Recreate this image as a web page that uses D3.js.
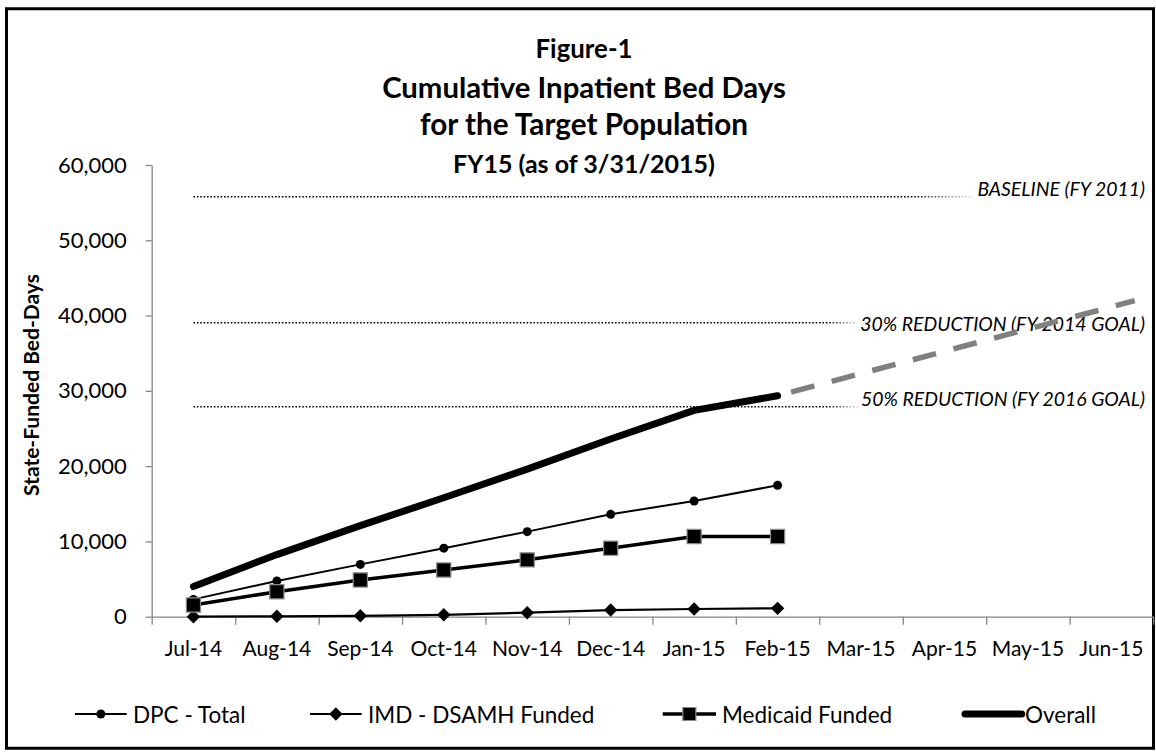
<!DOCTYPE html>
<html><head><meta charset="utf-8">
<script src="https://cdn.jsdelivr.net/npm/d3@7"></script>
<style>
body{margin:0;background:#fff;}
text{font-family:Lato,"Open Sans",sans-serif;fill:#000;}
</style>
</head><body>
<svg id="c" width="1156" height="756"></svg>
<script>
// ---- data ----
const months = ["Jul-14","Aug-14","Sep-14","Oct-14","Nov-14","Dec-14","Jan-15","Feb-15","Mar-15","Apr-15","May-15","Jun-15"];
const dpcTotal = [2300, 4750, 6950, 9100, 11300, 13600, 15370, 17450];
const imdFunded = [0, 50, 120, 250, 530, 880, 1020, 1110];
const medicaidFunded = [1550, 3320, 4880, 6200, 7550, 9100, 10650, 10650];
const overall = [4000, 8250, 12100, 15800, 19600, 23600, 27400, 29350];
const projectionMonthIndex = [7, 11.28];
const projectionValues = [29350, 41980];
const referenceValues = [55790, 39050, 27895];
const referenceLabels = ["BASELINE (FY 2011)", "30% REDUCTION (FY 2014 GOAL)", "50% REDUCTION (FY 2016 GOAL)"];
const yTicks = [0, 10000, 20000, 30000, 40000, 50000, 60000];
const titleLines = ["Figure-1", "Cumulative Inpatient Bed Days", "for the Target Population", "FY15 (as of 3/31/2015)"];
const yAxisTitle = "State-Funded Bed-Days";
const legendLabels = ["DPC - Total", "IMD - DSAMH Funded", "Medicaid Funded", "Overall"];

// ---- layout ----
const svg = d3.select("#c");
const plotL = 151.7, plotR = 1153.1, plotT = 165, plotB = 616.7;
const x = d3.scaleBand().domain(months).range([plotL, plotR]).padding(0);
const xi = d3.scaleLinear().domain([-0.5, months.length - 0.5]).range([plotL, plotR]);
const y = d3.scaleLinear().domain([0, 60000]).range([plotB, plotT]);
const cx = (d, i) => x(months[i]) + x.bandwidth() / 2;
const axisGray = "#868686";

function fit(sel, w) {
  const l = sel.node().getComputedTextLength();
  const fs = parseFloat(sel.attr("font-size"));
  sel.attr("font-size", fs * w / l);
}

// border
svg.append("rect").attr("x", 6.5).attr("y", 8.75).attr("width", 1147).attr("height", 739.5)
  .attr("fill", "none").attr("stroke", "#000").attr("stroke-width", 3);

// title
const titleY = [48, 86, 123, 163];
const titleSize = [28, 30, 30, 26];
const titleW = [97, 404, 328, 262];
titleLines.forEach((t, i) => {
  const s = svg.append("text").attr("x", 584).attr("y", titleY[i]).attr("text-anchor", "middle")
    .attr("dominant-baseline", "central").attr("font-weight", "bold").attr("font-size", titleSize[i]).text(t);
  fit(s, titleW[i]);
});

// y axis
const yAxis = svg.append("g").attr("transform", `translate(${plotL},0)`)
  .call(d3.axisLeft(y).tickValues(yTicks).tickSize(6).tickSizeOuter(0).tickPadding(19).tickFormat(d3.format(",")));
yAxis.select(".domain").attr("stroke", axisGray).attr("stroke-width", 1.3);
yAxis.selectAll(".tick line").attr("stroke", axisGray).attr("stroke-width", 1.3);
yAxis.selectAll(".tick text").attr("font-size", 22).attr("font-family", "Lato").attr("fill", "#000");

// y axis title
svg.append("text").attr("transform", "translate(30,385) rotate(-90)").attr("text-anchor", "middle")
  .attr("dominant-baseline", "central").attr("font-weight", "bold").attr("font-size", 21).text(yAxisTitle);

// x axis
const xAxis = svg.append("g").attr("transform", `translate(0,${plotB})`)
  .call(d3.axisBottom(xi).tickValues(d3.range(-0.5, months.length, 1)).tickSize(8).tickSizeOuter(0).tickFormat(""));
xAxis.select(".domain").attr("stroke", axisGray).attr("stroke-width", 1.3);
xAxis.selectAll(".tick line").attr("stroke", axisGray).attr("stroke-width", 1.3);
const xLab = svg.append("g").attr("transform", `translate(0,${plotB})`)
  .call(d3.axisBottom(x).tickSize(0).tickPadding(22));
xLab.select(".domain").remove();
xLab.selectAll(".tick text").attr("font-size", 21).attr("font-family", "Lato").attr("fill", "#000")
  .attr("dy", "0").attr("dominant-baseline", "central").attr("y", 31);

// reference lines + labels
const refLabelY = [188, 323, 398.3];
const refFade = [64, 30, 30];
const defs = svg.append("defs");
const refG = svg.append("g");
referenceValues.forEach((v, i) => {
  const t = refG.append("text").attr("x", 1145).attr("y", refLabelY[i]).attr("text-anchor", "end")
    .attr("dominant-baseline", "central").attr("font-style", "italic").attr("font-size", 19).text(referenceLabels[i]);
  if (i === 0) fit(t, 167.7);
  const fsz = refG.select("text").attr("font-size");
  t.attr("font-size", fsz);
  const start = t.node().getBBox().x;
  const endX = start - 3;
  const gid = "fade" + i;
  const g = defs.append("linearGradient").attr("id", gid).attr("gradientUnits", "userSpaceOnUse")
    .attr("x1", endX - refFade[i]).attr("x2", endX).attr("y1", 0).attr("y2", 0);
  g.append("stop").attr("offset", 0).attr("stop-color", "#000");
  g.append("stop").attr("offset", 1).attr("stop-color", "#e4e4e4");
  refG.insert("line", "text").attr("x1", cx(null, 0)).attr("x2", endX).attr("y1", y(v)).attr("y2", y(v))
    .attr("stroke", `url(#${gid})`).attr("stroke-width", 1.6).attr("stroke-dasharray", "1.6 1.8");
});

// series
const line = d3.line().x((d, i) => cx(d, i)).y(d => y(d));
const diamond = d3.symbol().type(d3.symbolSquare).size(90);
const square = d3.symbol().type(d3.symbolSquare).size(200);

// DPC
svg.append("path").datum(dpcTotal).attr("d", line).attr("fill", "none").attr("stroke", "#000").attr("stroke-width", 2);
svg.append("g").selectAll("circle").data(dpcTotal).join("circle")
  .attr("cx", cx).attr("cy", d => y(d)).attr("r", 4.5).attr("fill", "#000");

// IMD
svg.append("path").datum(imdFunded).attr("d", line).attr("fill", "none").attr("stroke", "#000").attr("stroke-width", 2.2);
svg.append("g").selectAll("path").data(imdFunded).join("path")
  .attr("d", diamond).attr("transform", (d, i) => `translate(${cx(d, i)},${y(d)}) rotate(45)`).attr("fill", "#000");

// Medicaid
svg.append("path").datum(medicaidFunded).attr("d", line).attr("fill", "none").attr("stroke", "#000").attr("stroke-width", 3.5);
svg.append("g").selectAll("path").data(medicaidFunded).join("path")
  .attr("d", square).attr("transform", (d, i) => `translate(${cx(d, i)},${y(d)})`)
  .attr("fill", "#000").attr("stroke", "#8a8a8a").attr("stroke-width", 1.2);

// Overall
svg.append("path").datum(overall).attr("d", line).attr("fill", "none").attr("stroke", "#000")
  .attr("stroke-width", 7).attr("stroke-linecap", "round").attr("stroke-linejoin", "round");

// projection
const projLine = d3.line().x(d => xi(d[0])).y(d => y(d[1]));
svg.append("path").datum(projectionMonthIndex.map((m, i) => [m, projectionValues[i]])).attr("d", projLine)
  .attr("fill", "none").attr("stroke", "#808080").attr("stroke-width", 5.5)
  .attr("stroke-dasharray", "24 18").attr("stroke-dashoffset", 28);

// legend
const legY = 714;
const legLine = [[75, 126.7], [310, 361.7], [662.7, 716], [965, 1021.7]];
const legText = [133, 368, 722, 1025];
const lg = svg.append("g");
legendLabels.forEach((lab, i) => {
  const [a, b] = legLine[i];
  const mid = (a + b) / 2;
  lg.append("line").attr("x1", a).attr("x2", b).attr("y1", legY).attr("y2", legY).attr("stroke", "#000")
    .attr("stroke-width", [2, 2.2, 3.5, 7][i]).attr("stroke-linecap", i === 3 ? "round" : "butt");
  if (i === 0) lg.append("circle").attr("cx", mid).attr("cy", legY).attr("r", 4.5).attr("fill", "#000");
  if (i === 1) lg.append("path").attr("d", diamond).attr("transform", `translate(${mid},${legY}) rotate(45)`).attr("fill", "#000");
  if (i === 2) lg.append("path").attr("d", d3.symbol().type(d3.symbolSquare).size(170)).attr("transform", `translate(${mid},${legY})`)
    .attr("fill", "#000").attr("stroke", "#8a8a8a").attr("stroke-width", 1.2);
  lg.append("text").attr("x", legText[i]).attr("y", legY).attr("dominant-baseline", "central")
    .attr("font-size", 22.5).text(lab);
});
</script>
</body></html>
